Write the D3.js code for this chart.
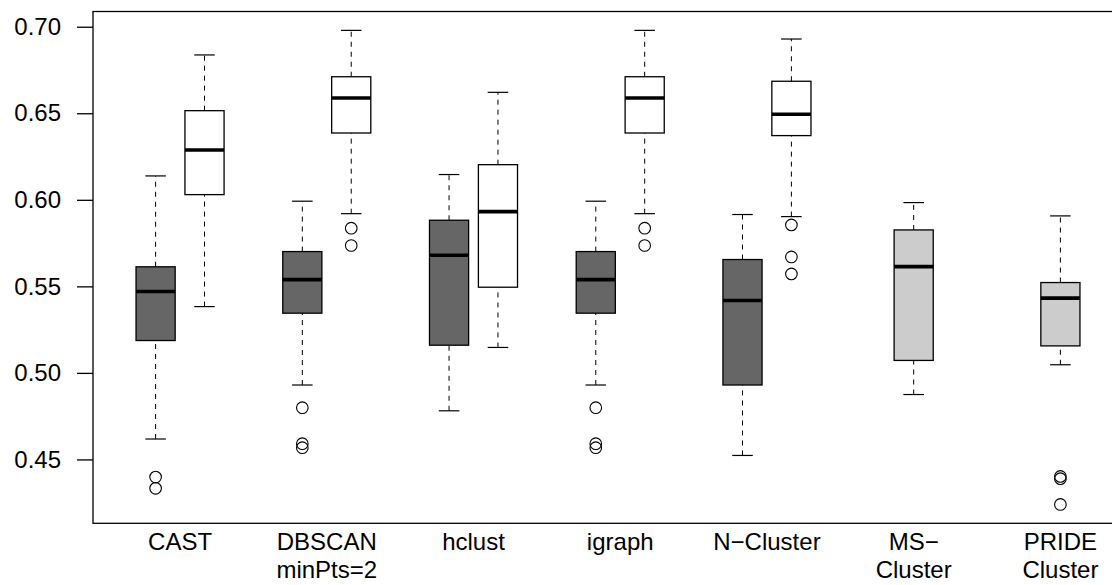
<!DOCTYPE html>
<html>
<head>
<meta charset="utf-8">
<script src="https://cdn.jsdelivr.net/npm/d3@7"></script>
<style>
  html, body { margin: 0; padding: 0; background: #fff; }
  svg { display: block; }
  text { font-family: "Liberation Sans", Arial, Helvetica, sans-serif; fill: #000; }
</style>
</head>
<body>
<svg id="chart" width="1112" height="585"></svg>
<script>
// Category labels (one entry per line of each label)
const categories = [
  ["CAST"],
  ["DBSCAN", "minPts=2"],
  ["hclust"],
  ["igraph"],
  ["N\u2212Cluster"],
  ["MS\u2212", "Cluster"],
  ["PRIDE", "Cluster"]
];

// Five-number summaries: [lower whisker, Q1, median, Q3, upper whisker]
// Dark boxes (first five methods)
const darkBoxes = [
  [0.4618, 0.5187, 0.5470, 0.5613, 0.6138],
  [0.4930, 0.5345, 0.5539, 0.5701, 0.5992],
  [0.4781, 0.5160, 0.5680, 0.5882, 0.6146],
  [0.4930, 0.5345, 0.5539, 0.5701, 0.5992],
  [0.4523, 0.4930, 0.5418, 0.5655, 0.5915]
];
const darkOutliers = [
  [0.4398, 0.4333],
  [0.4799, 0.4591, 0.4568],
  [],
  [0.4799, 0.4591, 0.4568],
  []
];

// White boxes (first five methods)
const whiteBoxes = [
  [0.5383, 0.6030, 0.6288, 0.6515, 0.6837],
  [0.5920, 0.6386, 0.6588, 0.6711, 0.6979],
  [0.5147, 0.5495, 0.5932, 0.6203, 0.6621],
  [0.5920, 0.6386, 0.6588, 0.6711, 0.6979],
  [0.5903, 0.6371, 0.6494, 0.6685, 0.6929]
];
const whiteOutliers = [
  [],
  [0.5836, 0.5736],
  [],
  [0.5836, 0.5736],
  [0.5855, 0.5670, 0.5572]
];

// Light grey boxes (MS-Cluster, PRIDE Cluster)
const lightBoxes = [
  [0.4875, 0.5072, 0.5614, 0.5826, 0.5984],
  [0.5047, 0.5156, 0.5432, 0.5522, 0.5907]
];
const lightOutliers = [
  [],
  [0.4402, 0.4389, 0.4240]
];

const yTicks = [0.45, 0.50, 0.55, 0.60, 0.65, 0.70];

const svg = d3.select("#chart");

// Box positions: three slots per method, pairs at 1,2 / 4,5 ..., singles centred
const x = d3.scaleLinear().domain([-0.28, 20.78]).range([93, 1123]);
const y = d3.scaleLinear().domain([0.4131, 0.7088]).range([523.3, 11.5]);

const boxW = x(0.8) - x(0);
const capW = x(0.42) - x(0);

const boxes = [];
darkBoxes.forEach((s, i) => boxes.push({ at: 3 * i + 1, s, out: darkOutliers[i], fill: "#666666" }));
whiteBoxes.forEach((s, i) => boxes.push({ at: 3 * i + 2, s, out: whiteOutliers[i], fill: "#ffffff" }));
lightBoxes.forEach((s, i) => boxes.push({ at: 3 * (i + 5) + 1.5, s, out: lightOutliers[i], fill: "#cccccc" }));

const g = svg.append("g");

boxes.forEach(b => {
  const cx = x(b.at);
  const [lo, q1, med, q3, hi] = b.s;
  const bg = g.append("g");
  // whiskers
  bg.append("line")
    .attr("x1", cx).attr("x2", cx).attr("y1", y(lo)).attr("y2", y(q1))
    .attr("stroke", "#000").attr("stroke-width", 1).attr("stroke-dasharray", "5,5");
  bg.append("line")
    .attr("x1", cx).attr("x2", cx).attr("y1", y(q3)).attr("y2", y(hi))
    .attr("stroke", "#000").attr("stroke-width", 1).attr("stroke-dasharray", "5,5");
  // staples
  [lo, hi].forEach(v => {
    bg.append("line")
      .attr("x1", cx - capW / 2).attr("x2", cx + capW / 2)
      .attr("y1", y(v)).attr("y2", y(v))
      .attr("stroke", "#000").attr("stroke-width", 1.2);
  });
  // box
  bg.append("rect")
    .attr("x", cx - boxW / 2).attr("width", boxW)
    .attr("y", y(q3)).attr("height", y(q1) - y(q3))
    .attr("fill", b.fill).attr("stroke", "#000").attr("stroke-width", 1.3);
  // median
  bg.append("line")
    .attr("x1", cx - boxW / 2).attr("x2", cx + boxW / 2)
    .attr("y1", y(med)).attr("y2", y(med))
    .attr("stroke", "#000").attr("stroke-width", 3.6);
  // outliers
  bg.selectAll("circle").data(b.out).join("circle")
    .attr("cx", cx).attr("cy", d => y(d)).attr("r", 5.8)
    .attr("fill", "none").attr("stroke", "#000").attr("stroke-width", 1.1);
});

// frame
svg.append("rect")
  .attr("x", 93).attr("y", 11.5)
  .attr("width", x.range()[1] - 93).attr("height", 523.3 - 11.5)
  .attr("fill", "none").attr("stroke", "#000").attr("stroke-width", 1.3);

// y axis
const yAxis = d3.axisLeft(y)
  .tickValues(yTicks)
  .tickFormat(d3.format(".2f"))
  .tickSize(16)
  .tickPadding(16);
const ya = svg.append("g").attr("transform", "translate(93,0)").call(yAxis);
ya.select(".domain").remove();
ya.selectAll(".tick line").attr("stroke", "#000").attr("stroke-width", 1.3);
ya.selectAll(".tick text")
  .attr("font-family", "'Liberation Sans', Arial, sans-serif")
  .attr("font-size", 24).attr("fill", "#000");

// category labels
categories.forEach((lines, i) => {
  const cx = x(3 * i + 1.5);
  lines.forEach((t, j) => {
    svg.append("text")
      .attr("x", cx).attr("y", 549.5 + j * 28.5)
      .attr("text-anchor", "middle")
      .attr("font-size", 24)
      .text(t);
  });
});
</script>
</body>
</html>
